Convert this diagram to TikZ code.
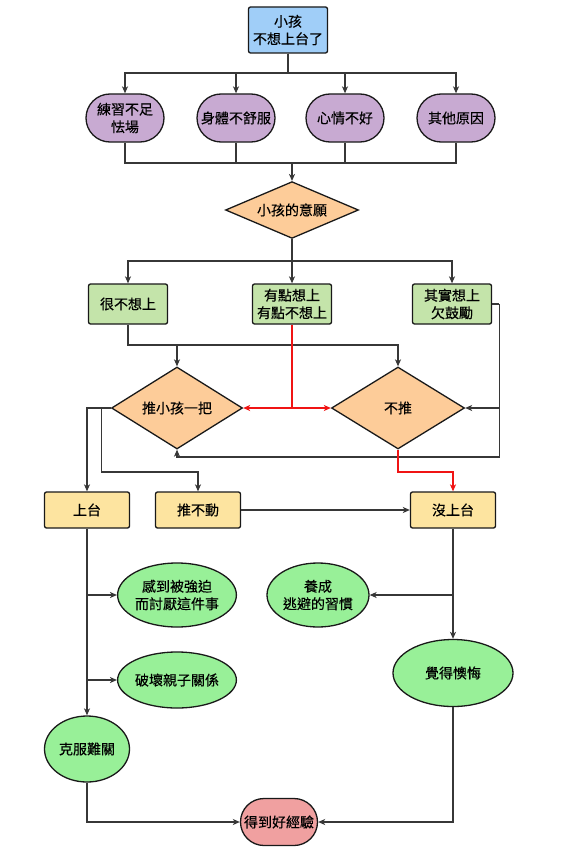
\documentclass[tikz,border=0pt]{standalone}
\usepackage{fontspec}
\setmainfont{Noto Sans CJK TC}[FakeBold=0.35]
\usetikzlibrary{shapes.geometric,arrows.meta,calc}
\definecolor{cblue}{RGB}{160,206,248}
\definecolor{cpurple}{RGB}{200,170,210}
\definecolor{cgreenbox}{RGB}{196,228,170}
\definecolor{cpeach}{RGB}{253,204,153}
\definecolor{cyellow}{RGB}{253,228,160}
\definecolor{cgreen}{RGB}{152,240,152}
\definecolor{cpink}{RGB}{240,160,160}
\definecolor{cline}{RGB}{55,55,55}
\definecolor{cred}{RGB}{240,20,20}
\tikzset{
  base/.style={draw=black!90, line width=1.3pt, inner sep=0pt, align=center,
    font=\fontsize{14}{17.5}\selectfont},
  topbox/.style={base, rectangle, rounded corners=2pt, fill=cblue, minimum width=79pt, minimum height=46pt},
  reason/.style={base, rectangle, rounded corners=24pt, fill=cpurple, minimum width=78pt, minimum height=48pt},
  wish/.style={base, rectangle, rounded corners=2pt, fill=cgreenbox, minimum width=79pt, minimum height=40pt},
  decide/.style={base, diamond, fill=cpeach, aspect=1.6},
  result/.style={base, rectangle, rounded corners=2pt, fill=cyellow, minimum width=85pt, minimum height=36pt},
  effect/.style={base, ellipse, fill=cgreen},
  final/.style={base, rectangle, rounded corners=23.5pt, fill=cpink, minimum width=77pt, minimum height=47pt},
  ln/.style={draw=cline, line width=1.2pt},
  arr/.style={ln, -{Stealth[length=7pt,width=6pt,inset=2pt]}},
  rarr/.style={draw=cred, line width=1.3pt, -{Stealth[length=7pt,width=6pt,inset=2pt]}},
}
\begin{document}
\begin{tikzpicture}[x=1pt,y=-1pt]
\useasboundingbox (0,0) rectangle (576,864);
% nodes
\node[topbox] (top) at (288,30) {小孩\\不想上台了};
\node[reason] (p1) at (125,118) {練習不足\\怯場};
\node[reason] (p2) at (236,118) {身體不舒服};
\node[reason] (p3) at (345,118) {心情不好};
\node[reason] (p4) at (456,118) {其他原因};
\node[decide, minimum width=133pt, minimum height=54pt] (will) at (292,210) {小孩的意願};
\node[wish] (g1) at (128,304) {很不想上};
\node[wish] (g2) at (292,304) {有點想上\\有點不想上};
\node[wish] (g3) at (452,304) {其實想上\\欠鼓勵};
\node[decide, minimum width=131pt, minimum height=82pt] (push) at (177,408) {推小孩一把};
\node[decide, minimum width=133pt, minimum height=82pt] (nopush) at (398,408) {不推};
\node[result] (up) at (87,510) {上台};
\node[result] (stuck) at (198,510) {推不動};
\node[result] (nostage) at (453,510) {沒上台};
\node[effect, minimum width=99pt, minimum height=64pt] (e1) at (177,595) {感到被強迫\\而討厭這件事};
\node[effect, minimum width=97pt, minimum height=56pt] (e2) at (177,680) {破壞親子關係};
\node[effect, minimum width=102pt, minimum height=64pt] (habit) at (318,595) {養成\\逃避的習慣};
\node[effect, minimum width=120pt, minimum height=67pt] (regret) at (453,673) {覺得懊悔};
\node[effect, minimum width=85pt, minimum height=66pt] (over) at (87,749) {克服難關};
\node[final] (good) at (279,822) {得到好經驗};
% helper levels
\coordinate (bus1) at (288,73);
\coordinate (bus2) at (292,163);
\coordinate (bus3) at (292,261);
\coordinate (y345) at (0,345);
\coordinate (y457) at (0,457);
\coordinate (y472) at (0,472);
% top to reasons
\foreach \n in {p1,p2,p3,p4} \draw[arr] (top.south) -- (bus1) -| (\n.north);
\foreach \n in {p1,p2,p3,p4} \draw[ln] (\n.south) |- (bus2);
\draw[arr] (bus2) -- (will.north);
% will to wishes
\foreach \n in {g1,g2,g3} \draw[arr] (will.south) -- (bus3) -| (\n.north);
% g1 to both diamonds
\draw[arr] (g1.south) -- (g1.south |- y345) -| (nopush.north);
\draw[arr] (push.north |- y345) -- (push.north);
% g2 red
\draw[rarr] (g2.south) -- (g2.south |- push.east) -- (push.east);
\draw[rarr] (g2.south |- push.east) -- (nopush.west);
% g3
\draw[ln] (g3.east) -- ++(7,0) coordinate (r1);
\draw[arr] (r1) -- (r1 |- nopush.east) -- (nopush.east);
\draw[arr] (r1 |- nopush.east) -- (r1 |- y457) -| (push.south);
% push outcomes
\draw[arr] (push.west) -| (up.north);
\coordinate (k) at ($(push.west)+(-9,0)$);
\draw[arr] (k) -- (k |- y472) -| (stuck.north);
\draw[rarr] (nopush.south) -- (nopush.south |- y472) -| (nostage.north);
\draw[arr] (stuck.east) -- (nostage.west);
% consequences
\draw[arr] (up.south) -- (over.north);
\draw[arr] (up.south |- e1.west) -- (e1.west);
\draw[arr] (up.south |- e2.west) -- (e2.west);
\draw[arr] (nostage.south) -- (regret.north);
\draw[arr] (nostage.south |- habit.east) -- (habit.east);
\draw[arr] (over.south) |- (good.west);
\draw[arr] (regret.south) |- (good.east);
\end{tikzpicture}
\end{document}
